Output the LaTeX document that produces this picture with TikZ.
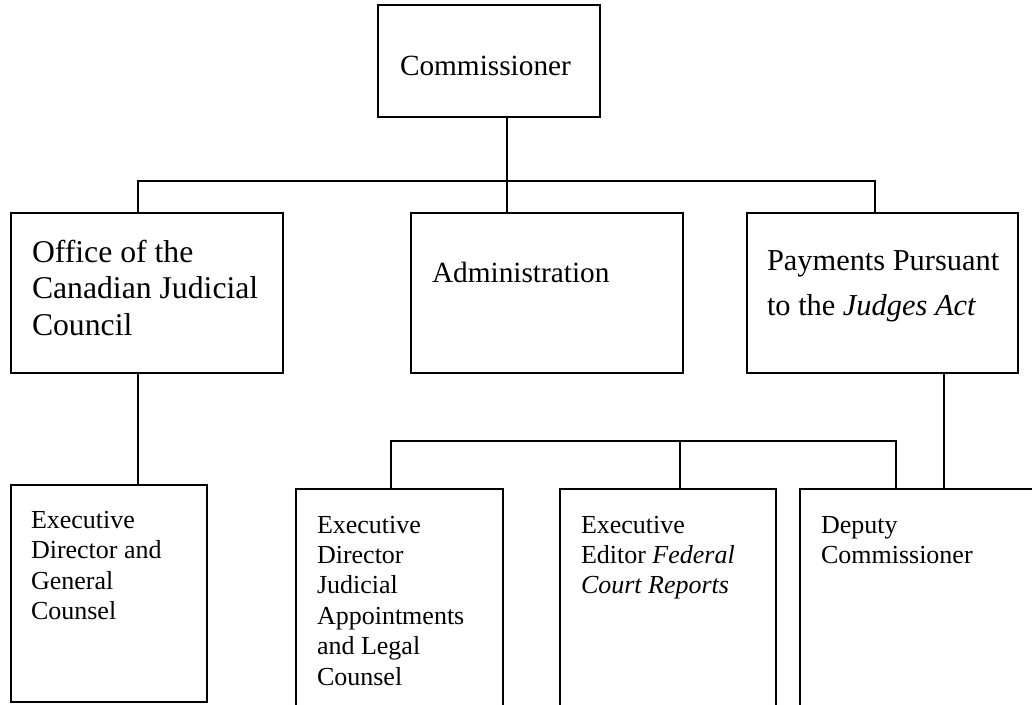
\documentclass[tikz,border=0pt]{standalone}
\usepackage{fontspec}
\setmainfont{Liberation Serif}
\tikzset{
  box/.style={draw, line width=1.6pt, rectangle, anchor=north west, inner sep=0pt, outer sep=0pt},
  conn/.style={line width=1.6pt},
  lbl/.style={anchor=base west, inner sep=0pt, outer sep=0pt, align=left},
}
\newcommand{\mlines}[1]{\begin{tabular}[t]{@{}l@{}}#1\end{tabular}}
\begin{document}
\begin{tikzpicture}[x=1pt,y=-1pt]
\useasboundingbox (0,0) rectangle (1032,704);
% boxes
\node[box, minimum width=222pt, minimum height=112pt] (comm) at (378,5) {};
\node[box, minimum width=272pt, minimum height=160pt] (office) at (11,213) {};
\node[box, minimum width=272pt, minimum height=160pt] (admin) at (411,213) {};
\node[box, minimum width=271pt, minimum height=160pt] (pay) at (747,213) {};
\node[box, minimum width=196pt, minimum height=217pt] (gc) at (11,485) {};
\node[box, minimum width=207pt, minimum height=230pt] (jud) at (296,489) {};
\node[box, minimum width=216pt, minimum height=230pt] (ed) at (560,489) {};
\node[box, minimum width=260pt, minimum height=230pt] (dep) at (800,489) {};
% texts
\node[lbl, font=\fontsize{29.3}{35}\selectfont] (tcomm) at (400,75) {Commissioner};
\node[lbl, font=\fontsize{31.7}{36.7}\selectfont] (toffice) at (32,262) {\mlines{Office of the\\Canadian Judicial\\Council}};
\node[lbl, font=\fontsize{29.3}{35}\selectfont] (tadmin) at (432,282) {Administration};
\node[lbl, font=\fontsize{30.4}{45}\selectfont] (tpay) at (767,270) {\mlines{Payments Pursuant\\to the \textit{Judges Act}}};
\node[lbl, font=\fontsize{26}{30.5}\selectfont] (tgc) at (31,528) {\mlines{Executive\\Director and\\General\\Counsel}};
\node[lbl, font=\fontsize{26}{30.4}\selectfont] (tjud) at (317,533) {\mlines{Executive\\Director\\Judicial\\Appointments\\and Legal\\Counsel}};
\node[lbl, font=\fontsize{26}{30.4}\selectfont] (ted) at (581,533) {\mlines{Executive\\Editor \textit{Federal}\\\textit{Court Reports}}};
\node[lbl, font=\fontsize{26}{30.4}\selectfont] (tdep) at (821,533) {\mlines{Deputy\\Commissioner}};
% connector helpers
\coordinate (xo) at (138,0);
\coordinate (xa) at (507,0);
\coordinate (xp) at (875,0);
\coordinate (xq) at (944,0);
\coordinate (xl1) at (391,0);
\coordinate (xl3) at (896,0);
\coordinate (j1) at (507,181);
\coordinate (j2) at (680,441);
% connectors
\draw[conn] (comm.south -| xa) -- (admin.north -| xa);
\draw[conn] (office.north -| xo) |- (j1) -| (pay.north -| xp);
\draw[conn] (office.south -| xo) -- (gc.north -| xo);
\draw[conn] (pay.south -| xq) -- (dep.north -| xq);
\draw[conn] (jud.north -| xl1) |- (j2) -| (dep.north -| xl3);
\draw[conn] (j2) -- (ed.north -| j2);
\end{tikzpicture}
\end{document}
